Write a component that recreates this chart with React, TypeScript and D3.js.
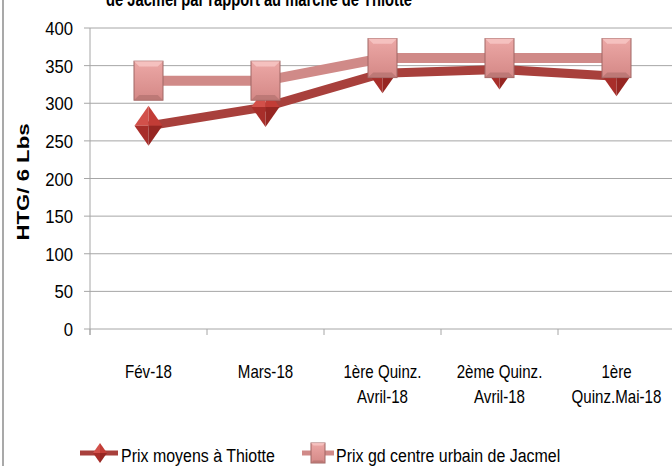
import React from "react";
import * as d3 from "d3";

const categories = [
  ["Fév-18"],
  ["Mars-18"],
  ["1ère Quinz.", "Avril-18"],
  ["2ème Quinz.", "Avril-18"],
  ["1ère", "Quinz.Mai-18"],
];
const thiotte = [270, 295, 340, 345, 336];
const jacmel = [330, 330, 360, 360, 360];
const yTicks = [0, 50, 100, 150, 200, 250, 300, 350, 400];
const seriesNames = ["Prix moyens à Thiotte", "Prix gd centre urbain de Jacmel"];
const titleText = "de Jacmel par rapport au marché de Thiotte";
const yLabel = "HTG/ 6 Lbs";

const W = 672;
const H = 466;
const FONT = "'Liberation Sans', Arial, sans-serif";
const SX = 0.84;

const DARK = "#a8403c";
const LIGHT = "#d08a88";

function T({ x, y, anchor = "start", size = 18, sx = SX, bold = false, children }: any) {
  return (
    <g transform={`translate(${x},${y}) scale(${sx},1)`}>
      <text x={0} y={0} textAnchor={anchor} fontFamily={FONT} fontSize={size} fontWeight={bold ? "bold" : "normal"} fill="#000">{children}</text>
    </g>
  );
}

function Diamond({ cx, cy, w, h }: { cx: number; cy: number; w: number; h: number }) {
  const hw = w / 2, hh = h / 2;
  return (
    <g>
      <polygon points={`${cx},${cy - hh} ${cx - hw},${cy} ${cx},${cy}`} fill="#d2504a" />
      <polygon points={`${cx},${cy - hh} ${cx + hw},${cy} ${cx},${cy}`} fill="#c23c36" />
      <polygon points={`${cx - hw},${cy} ${cx},${cy + hh} ${cx},${cy}`} fill="#a82e2a" />
      <polygon points={`${cx + hw},${cy} ${cx},${cy + hh} ${cx},${cy}`} fill="#962622" />
    </g>
  );
}

function Square({ cx, cy, w, h }: { cx: number; cy: number; w: number; h: number }) {
  const x0 = cx - w / 2, y0 = cy - h / 2, b = Math.min(w, h) * 0.18;
  return (
    <g>
      <rect x={x0} y={y0} width={w} height={h} fill="url(#sqGrad)" stroke="#a06664" strokeWidth={1} />
      <polygon points={`${x0},${y0} ${x0 + w},${y0} ${x0 + w - b},${y0 + b} ${x0 + b},${y0 + b}`} fill="#f6c4c2" opacity={0.9} />
      <polygon points={`${x0},${y0 + h} ${x0 + w},${y0 + h} ${x0 + w - b},${y0 + h - b} ${x0 + b},${y0 + h - b}`} fill="#b67472" opacity={0.8} />
    </g>
  );
}

export default function App() {
  const x = d3.scaleBand<number>().domain(d3.range(categories.length)).range([90, 675]).padding(0);
  const y = d3.scaleLinear().domain([0, 400]).range([329, 28]);
  const cxf = (i: number) => (x(i) as number) + x.bandwidth() / 2;
  const line = d3.line<number>().x((_, i) => cxf(i)).y((d) => y(d));

  return (
    <svg width={W} height={H} style={{ position: "absolute", left: 0, top: 0, background: "#fff" }}>
      <defs>
        <linearGradient id="sqGrad" x1="0" y1="0" x2="0" y2="1">
          <stop offset="0" stopColor="#eca8a6" />
          <stop offset="1" stopColor="#d48886" />
        </linearGradient>
      </defs>
      <rect x={0} y={0} width={W} height={H} fill="#fff" />
      <line x1={3} x2={3} y1={0} y2={H} stroke="#8c8c8c" strokeWidth={1.5} />

      <text x={259} y={6} textAnchor="middle" fontFamily={FONT} fontWeight="bold" fontSize={20} textLength={306} lengthAdjust="spacingAndGlyphs" fill="#000">{titleText}</text>

      {yTicks.map((t) => (
        <g key={t}>
          <line x1={84} x2={W} y1={y(t)} y2={y(t)} stroke="#a6a6a6" strokeWidth={1} />
          <T x={73} y={y(t) + 7} anchor="end" size={19} sx={0.88}>{t}</T>
        </g>
      ))}
      <line x1={90} x2={90} y1={y(400)} y2={335} stroke="#a6a6a6" strokeWidth={1} />
      {d3.range(categories.length + 1).map((i) => {
        const xx = i < categories.length ? (x(i) as number) : 675;
        return <line key={i} x1={xx} x2={xx} y1={329} y2={335} stroke="#a6a6a6" strokeWidth={1} />;
      })}

      <text transform={`translate(29,${182}) rotate(-90)`} textAnchor="middle" fontFamily={FONT} fontWeight="bold" fontSize={16} textLength={117} lengthAdjust="spacingAndGlyphs" fill="#000">{yLabel}</text>

      {categories.map((lines, i) => (
        <g key={i}>
          {lines.map((l, j) => (
            <T key={j} x={cxf(i)} y={378 + j * 25} anchor="middle" size={18}>{l}</T>
          ))}
        </g>
      ))}

      <path d={line(thiotte) || ""} fill="none" stroke={DARK} strokeWidth={9} strokeLinejoin="round" />
      {thiotte.map((v, i) => <Diamond key={i} cx={cxf(i)} cy={y(v)} w={28} h={40} />)}
      <path d={line(jacmel) || ""} fill="none" stroke={LIGHT} strokeWidth={10} strokeLinejoin="round" />
      {jacmel.map((v, i) => <Square key={i} cx={cxf(i)} cy={y(v)} w={29} h={39} />)}

      <line x1={80} x2={118} y1={453} y2={453} stroke={DARK} strokeWidth={5} />
      <Diamond cx={100} cy={453} w={14} h={20} />
      <T x={121} y={462} size={19}>{seriesNames[0]}</T>
      <line x1={302} x2={334} y1={453} y2={453} stroke={LIGHT} strokeWidth={5} />
      <Square cx={318} cy={453} w={14} h={20} />
      <T x={336} y={462} size={19}>{seriesNames[1]}</T>
    </svg>
  );
}
